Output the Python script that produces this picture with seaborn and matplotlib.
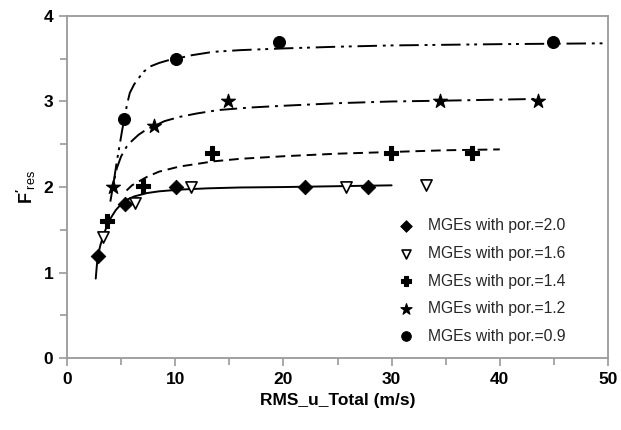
import matplotlib
matplotlib.use("Agg")
import matplotlib.pyplot as plt
import seaborn as sns
from matplotlib.ticker import MultipleLocator

# ---- measured points ----
x_20 = [2.85, 5.4, 10.1, 22.0, 27.8]
y_20 = [1.20, 1.80, 2.00, 2.00, 2.00]
x_16 = [3.3, 6.3, 11.5, 25.8, 33.2]
y_16 = [1.42, 1.81, 2.00, 2.00, 2.02]
x_14 = [3.7, 7.0, 13.4, 29.9, 37.4]
y_14 = [1.60, 2.01, 2.40, 2.40, 2.40]
x_12 = [4.2, 8.0, 14.9, 34.5, 43.5]
y_12 = [2.00, 2.71, 3.01, 3.00, 3.00]
x_09 = [5.3, 10.1, 19.6, 44.9]
y_09 = [2.80, 3.50, 3.70, 3.70]

# ---- fitted curves ----
cx_20 = [2.65, 2.75, 2.85, 3.1, 3.4, 3.7, 4.0, 4.5, 5.0, 5.5, 6.2, 7.4, 8.5, 10.4, 13.0, 16.0, 20.0, 25.0, 30.0]
cy_20 = [0.93, 1.08, 1.20, 1.33, 1.45, 1.55, 1.63, 1.73, 1.80, 1.85, 1.89, 1.93, 1.95, 1.97, 1.985, 1.995, 2.00, 2.01, 2.02]
cx_14 = [5.5, 6.0, 6.7, 7.4, 8.5, 10.4, 12.0, 13.5, 16.0, 20.0, 25.0, 30.0, 35.0, 40.0]
cy_14 = [1.96, 2.02, 2.07, 2.12, 2.18, 2.24, 2.27, 2.30, 2.33, 2.36, 2.39, 2.41, 2.43, 2.44]
cx_12 = [4.0, 4.3, 4.6, 5.0, 5.5, 6.0, 6.6, 7.3, 8.0, 9.0, 10.4, 12.0, 14.0, 17.0, 20.0, 25.0, 30.0, 35.0, 43.5]
cy_12 = [1.83, 2.05, 2.22, 2.36, 2.47, 2.54, 2.61, 2.67, 2.71, 2.77, 2.82, 2.86, 2.90, 2.93, 2.95, 2.98, 3.00, 3.01, 3.03]
cx_09 = [4.3, 4.6, 4.9, 5.1, 5.3, 5.55, 5.8, 6.2, 6.6, 7.1, 7.7, 8.5, 9.3, 10.1, 11.5, 13.5, 16.0, 20.0, 25.0, 30.0, 40.0, 50.0]
cy_09 = [2.05, 2.30, 2.52, 2.67, 2.80, 2.97, 3.10, 3.20, 3.27, 3.35, 3.41, 3.45, 3.48, 3.50, 3.54, 3.58, 3.60, 3.62, 3.64, 3.655, 3.67, 3.68]

labels = ["MGEs with por.=2.0", "MGEs with por.=1.6", "MGEs with por.=1.4",
          "MGEs with por.=1.2", "MGEs with por.=0.9"]

sns.set_theme(style="white")
plt.rcParams['font.family'] = ['Liberation Sans', 'DejaVu Sans']
plt.rcParams['mathtext.fontset'] = 'custom'
plt.rcParams['mathtext.rm'] = 'Liberation Sans'
plt.rcParams['mathtext.bf'] = 'Liberation Sans:bold'

fig = plt.figure(figsize=(6.21, 4.30), dpi=100)
ax = fig.add_axes([0.108, 0.167, 0.871, 0.796])

# curves
curves = [
    (cx_20, cy_20, None),
    (cx_14, cy_14, (5, 3)),
    (cx_12, cy_12, (9, 3, 1.5, 3)),
    (cx_09, cy_09, (10, 3, 1.5, 2.5, 1.5, 3)),
]
for cx, cy, dash in curves:
    sns.lineplot(x=cx, y=cy, ax=ax, color="black", linewidth=1.4,
                 sort=False, estimator=None)
    line = ax.lines[-1]
    if dash is not None:
        line.set_dashes(dash)

# markers
sns.scatterplot(x=x_20, y=y_20, ax=ax, marker="D", s=55, color="black",
                edgecolor="black", label=labels[0], zorder=5)
sns.scatterplot(x=x_16, y=y_16, ax=ax, marker="v", s=65, facecolor="white",
                edgecolor="black", linewidth=1.2, label=labels[1], zorder=5)
sns.scatterplot(x=x_14, y=y_14, ax=ax, marker="P", s=95, color="black",
                edgecolor="black", label=labels[2], zorder=5)
sns.scatterplot(x=x_12, y=y_12, ax=ax, marker="*", s=110, color="black",
                edgecolor="black", label=labels[3], zorder=5)
sns.scatterplot(x=x_09, y=y_09, ax=ax, marker="o", s=75, color="black",
                edgecolor="black", label=labels[4], zorder=5)

ax.set_xlim(0, 50)
ax.set_ylim(0, 4)
ax.xaxis.set_major_locator(MultipleLocator(10))
ax.xaxis.set_minor_locator(MultipleLocator(5))
ax.yaxis.set_major_locator(MultipleLocator(1))
ax.yaxis.set_minor_locator(MultipleLocator(0.5))

for sp in ax.spines.values():
    sp.set_color("#9a9a9a")
    sp.set_linewidth(1.3)

ax.tick_params(which="both", direction="out", color="#9a9a9a", width=1.2,
               bottom=True, left=True, top=False, right=False)
ax.tick_params(which="major", length=6, labelsize=12.5, pad=4)
ax.tick_params(which="minor", length=5)
for t in ax.get_xticklabels() + ax.get_yticklabels():
    t.set_fontweight("bold")
    t.set_color("black")

ax.set_xlabel("RMS_u_Total (m/s)", fontsize=12.5, fontweight="bold", color="black", labelpad=4)
ax.set_ylabel(r"$\mathbf{F'}_{\rm res}$", fontsize=13, color="black", labelpad=4)

leg = ax.legend(loc="center", bbox_to_anchor=(0.776, 0.3465), bbox_transform=fig.transFigure,
                frameon=False, fontsize=11.3, handletextpad=0.95, labelspacing=0.8,
                handlelength=1.0, borderpad=0, markerscale=0.8)

fig.savefig("out.png", dpi=100)
